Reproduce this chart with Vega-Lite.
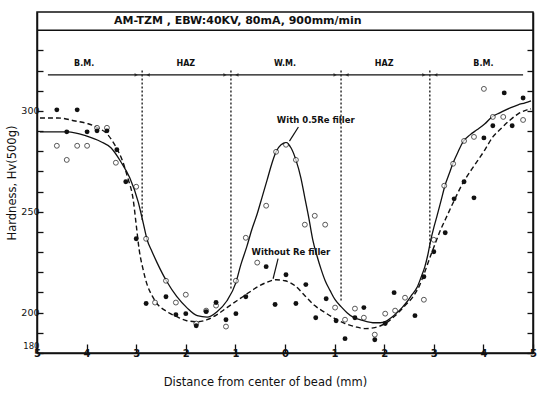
{
  "$schema": "https://vega.github.io/schema/vega-lite/v6.json",
  "width": 496,
  "height": 341,
  "autosize": {"type": "none"},
  "padding": {"left": 37, "top": 12, "right": 8, "bottom": 41},
  "background": "white",
  "config": {
    "font": "DejaVu Sans",
    "view": {"stroke": "#111", "strokeWidth": 1.5},
    "axis": {"grid": false, "domainColor": "#111", "domainWidth": 1.5, "tickColor": "#111", "tickWidth": 1.3, "labelColor": "#111", "titleColor": "#111", "labelFontSize": 10, "titleFontSize": 11.5, "titleFontWeight": "normal"}
  },
  "datasets": {
    "pts": [
      {"x": -4.60, "hv": 282.7, "s": "o"}, {"x": -4.19, "hv": 282.7, "s": "o"}, {"x": -3.99, "hv": 282.7, "s": "o"}, {"x": -4.40, "hv": 275.7, "s": "o"},
      {"x": -3.79, "hv": 291.6, "s": "o"}, {"x": -3.59, "hv": 291.6, "s": "o"}, {"x": -3.41, "hv": 274.3, "s": "o"}, {"x": -3.00, "hv": 262.4, "s": "o"},
      {"x": -2.80, "hv": 236.6, "s": "o"}, {"x": -2.40, "hv": 215.8, "s": "o"}, {"x": -2.62, "hv": 205.0, "s": "o"}, {"x": -2.20, "hv": 205.0, "s": "o"},
      {"x": -2.00, "hv": 208.9, "s": "o"}, {"x": -1.79, "hv": 194.6, "s": "o"}, {"x": -1.59, "hv": 201.0, "s": "o"}, {"x": -1.39, "hv": 203.5, "s": "o"},
      {"x": -1.19, "hv": 193.1, "s": "o"}, {"x": -0.99, "hv": 215.8, "s": "o"}, {"x": -0.79, "hv": 237.1, "s": "o"}, {"x": -0.56, "hv": 224.8, "s": "o"},
      {"x": -0.38, "hv": 253.0, "s": "o"}, {"x": -0.18, "hv": 279.7, "s": "o"}, {"x": 0.02, "hv": 283.2, "s": "o"}, {"x": 0.22, "hv": 275.7, "s": "o"},
      {"x": 0.40, "hv": 243.6, "s": "o"}, {"x": 0.60, "hv": 248.0, "s": "o"}, {"x": 0.81, "hv": 243.6, "s": "o"}, {"x": 1.01, "hv": 202.5, "s": "o"},
      {"x": 1.21, "hv": 196.5, "s": "o"}, {"x": 1.41, "hv": 202.0, "s": "o"}, {"x": 1.59, "hv": 197.5, "s": "o"}, {"x": 1.81, "hv": 189.1, "s": "o"},
      {"x": 2.02, "hv": 199.5, "s": "o"}, {"x": 2.22, "hv": 201.0, "s": "o"}, {"x": 2.42, "hv": 207.4, "s": "o"}, {"x": 2.80, "hv": 206.4, "s": "o"},
      {"x": 3.00, "hv": 236.1, "s": "o"}, {"x": 3.21, "hv": 262.9, "s": "o"}, {"x": 3.39, "hv": 273.8, "s": "o"}, {"x": 3.61, "hv": 285.1, "s": "o"},
      {"x": 3.81, "hv": 287.1, "s": "o"}, {"x": 4.01, "hv": 310.9, "s": "o"}, {"x": 4.19, "hv": 297.0, "s": "o"}, {"x": 4.40, "hv": 297.0, "s": "o"},
      {"x": 4.80, "hv": 295.5, "s": "o"},
      {"x": -4.60, "hv": 300.5, "s": "f"}, {"x": -4.19, "hv": 300.5, "s": "f"}, {"x": -4.40, "hv": 289.6, "s": "f"}, {"x": -3.99, "hv": 289.6, "s": "f"},
      {"x": -3.79, "hv": 290.1, "s": "f"}, {"x": -3.59, "hv": 290.1, "s": "f"}, {"x": -3.39, "hv": 280.7, "s": "f"}, {"x": -3.21, "hv": 264.9, "s": "f"},
      {"x": -3.00, "hv": 236.6, "s": "f"}, {"x": -2.80, "hv": 204.5, "s": "f"}, {"x": -2.40, "hv": 207.9, "s": "f"}, {"x": -2.20, "hv": 199.0, "s": "f"},
      {"x": -2.00, "hv": 199.5, "s": "f"}, {"x": -1.79, "hv": 193.5, "s": "f"}, {"x": -1.59, "hv": 200.5, "s": "f"}, {"x": -1.39, "hv": 205.0, "s": "f"},
      {"x": -1.19, "hv": 196.5, "s": "f"}, {"x": -0.99, "hv": 199.5, "s": "f"}, {"x": -0.79, "hv": 207.9, "s": "f"}, {"x": -0.38, "hv": 222.8, "s": "f"},
      {"x": -0.20, "hv": 204.0, "s": "f"}, {"x": 0.02, "hv": 218.8, "s": "f"}, {"x": 0.22, "hv": 204.5, "s": "f"}, {"x": 0.42, "hv": 213.9, "s": "f"},
      {"x": 0.62, "hv": 197.5, "s": "f"}, {"x": 0.83, "hv": 206.9, "s": "f"}, {"x": 1.03, "hv": 196.0, "s": "f"}, {"x": 1.21, "hv": 187.1, "s": "f"},
      {"x": 1.41, "hv": 197.5, "s": "f"}, {"x": 1.59, "hv": 202.5, "s": "f"}, {"x": 1.81, "hv": 186.6, "s": "f"}, {"x": 2.02, "hv": 194.6, "s": "f"},
      {"x": 2.20, "hv": 209.9, "s": "f"}, {"x": 2.62, "hv": 198.5, "s": "f"}, {"x": 2.80, "hv": 217.8, "s": "f"}, {"x": 3.00, "hv": 230.2, "s": "f"},
      {"x": 3.23, "hv": 239.6, "s": "f"}, {"x": 3.41, "hv": 256.4, "s": "f"}, {"x": 3.61, "hv": 264.9, "s": "f"}, {"x": 3.81, "hv": 256.9, "s": "f"},
      {"x": 4.01, "hv": 286.6, "s": "f"}, {"x": 4.19, "hv": 292.6, "s": "f"}, {"x": 4.42, "hv": 308.9, "s": "f"}, {"x": 4.58, "hv": 292.6, "s": "f"},
      {"x": 4.80, "hv": 306.4, "s": "f"}
    ],
    "curves": [
      {"x": -4.94, "hv": 289.6, "c": "w"}, {"x": -4.38, "hv": 289.6, "c": "w"}, {"x": -4.01, "hv": 287.6, "c": "w"}, {"x": -3.71, "hv": 284.7, "c": "w"},
      {"x": -3.51, "hv": 281.7, "c": "w"}, {"x": -3.31, "hv": 274.8, "c": "w"}, {"x": -3.13, "hv": 266.8, "c": "w"}, {"x": -2.96, "hv": 254.9, "c": "w"},
      {"x": -2.86, "hv": 244.6, "c": "w"}, {"x": -2.78, "hv": 236.1, "c": "w"}, {"x": -2.68, "hv": 230.2, "c": "w"}, {"x": -2.58, "hv": 224.8, "c": "w"},
      {"x": -2.38, "hv": 215.3, "c": "w"}, {"x": -2.18, "hv": 207.9, "c": "w"}, {"x": -1.98, "hv": 202.5, "c": "w"}, {"x": -1.77, "hv": 198.5, "c": "w"},
      {"x": -1.57, "hv": 197.8, "c": "w"}, {"x": -1.37, "hv": 200.5, "c": "w"}, {"x": -1.17, "hv": 205.9, "c": "w"}, {"x": -0.99, "hv": 214.9, "c": "w"},
      {"x": -0.89, "hv": 223.8, "c": "w"}, {"x": -0.77, "hv": 232.7, "c": "w"}, {"x": -0.67, "hv": 241.1, "c": "w"}, {"x": -0.56, "hv": 249.0, "c": "w"},
      {"x": -0.46, "hv": 257.4, "c": "w"}, {"x": -0.36, "hv": 265.8, "c": "w"}, {"x": -0.26, "hv": 274.3, "c": "w"}, {"x": -0.18, "hv": 279.7, "c": "w"},
      {"x": -0.08, "hv": 283.2, "c": "w"}, {"x": 0.02, "hv": 284.2, "c": "w"}, {"x": 0.12, "hv": 281.7, "c": "w"}, {"x": 0.22, "hv": 275.7, "c": "w"},
      {"x": 0.32, "hv": 266.8, "c": "w"}, {"x": 0.40, "hv": 256.9, "c": "w"}, {"x": 0.48, "hv": 247.0, "c": "w"}, {"x": 0.56, "hv": 236.1, "c": "w"},
      {"x": 0.65, "hv": 227.7, "c": "w"}, {"x": 0.73, "hv": 221.3, "c": "w"}, {"x": 0.81, "hv": 215.8, "c": "w"}, {"x": 0.91, "hv": 210.9, "c": "w"},
      {"x": 1.01, "hv": 206.4, "c": "w"}, {"x": 1.13, "hv": 203.0, "c": "w"}, {"x": 1.25, "hv": 200.0, "c": "w"}, {"x": 1.39, "hv": 197.5, "c": "w"},
      {"x": 1.51, "hv": 196.5, "c": "w"}, {"x": 1.65, "hv": 195.5, "c": "w"}, {"x": 1.77, "hv": 195.0, "c": "w"}, {"x": 1.92, "hv": 195.0, "c": "w"},
      {"x": 2.02, "hv": 195.5, "c": "w"}, {"x": 2.14, "hv": 197.5, "c": "w"}, {"x": 2.26, "hv": 200.0, "c": "w"}, {"x": 2.36, "hv": 202.5, "c": "w"},
      {"x": 2.46, "hv": 205.4, "c": "w"}, {"x": 2.56, "hv": 208.9, "c": "w"}, {"x": 2.66, "hv": 212.4, "c": "w"}, {"x": 2.74, "hv": 217.3, "c": "w"},
      {"x": 2.82, "hv": 222.8, "c": "w"}, {"x": 2.88, "hv": 228.7, "c": "w"}, {"x": 2.94, "hv": 236.1, "c": "w"}, {"x": 3.00, "hv": 242.1, "c": "w"},
      {"x": 3.06, "hv": 247.5, "c": "w"}, {"x": 3.15, "hv": 255.9, "c": "w"}, {"x": 3.23, "hv": 263.4, "c": "w"}, {"x": 3.31, "hv": 268.8, "c": "w"},
      {"x": 3.39, "hv": 274.3, "c": "w"}, {"x": 3.49, "hv": 279.7, "c": "w"}, {"x": 3.59, "hv": 284.7, "c": "w"}, {"x": 3.73, "hv": 288.1, "c": "w"},
      {"x": 3.87, "hv": 290.6, "c": "w"}, {"x": 4.03, "hv": 293.6, "c": "w"}, {"x": 4.17, "hv": 297.0, "c": "w"}, {"x": 4.33, "hv": 299.0, "c": "w"},
      {"x": 4.54, "hv": 301.5, "c": "w"}, {"x": 4.70, "hv": 303.0, "c": "w"}, {"x": 4.84, "hv": 304.0, "c": "w"}, {"x": 4.96, "hv": 305.0, "c": "w"},
      {"x": -4.94, "hv": 296.5, "c": "n"}, {"x": -4.58, "hv": 296.5, "c": "n"}, {"x": -4.23, "hv": 295.0, "c": "n"}, {"x": -3.97, "hv": 293.6, "c": "n"},
      {"x": -3.77, "hv": 291.6, "c": "n"}, {"x": -3.57, "hv": 288.1, "c": "n"}, {"x": -3.41, "hv": 282.2, "c": "n"}, {"x": -3.27, "hv": 274.8, "c": "n"},
      {"x": -3.17, "hv": 266.8, "c": "n"}, {"x": -3.06, "hv": 255.9, "c": "n"}, {"x": -3.00, "hv": 243.6, "c": "n"}, {"x": -2.94, "hv": 231.2, "c": "n"},
      {"x": -2.86, "hv": 221.3, "c": "n"}, {"x": -2.78, "hv": 213.9, "c": "n"}, {"x": -2.68, "hv": 208.4, "c": "n"}, {"x": -2.58, "hv": 204.5, "c": "n"},
      {"x": -2.38, "hv": 200.5, "c": "n"}, {"x": -2.18, "hv": 198.0, "c": "n"}, {"x": -1.98, "hv": 196.0, "c": "n"}, {"x": -1.77, "hv": 195.5, "c": "n"},
      {"x": -1.57, "hv": 196.5, "c": "n"}, {"x": -1.37, "hv": 199.0, "c": "n"}, {"x": -1.17, "hv": 202.5, "c": "n"}, {"x": -0.97, "hv": 205.9, "c": "n"},
      {"x": -0.79, "hv": 208.9, "c": "n"}, {"x": -0.58, "hv": 212.4, "c": "n"}, {"x": -0.38, "hv": 214.9, "c": "n"}, {"x": -0.18, "hv": 216.3, "c": "n"},
      {"x": 0.00, "hv": 215.8, "c": "n"}, {"x": 0.20, "hv": 213.4, "c": "n"}, {"x": 0.40, "hv": 208.4, "c": "n"}, {"x": 0.60, "hv": 203.5, "c": "n"},
      {"x": 0.81, "hv": 200.0, "c": "n"}, {"x": 1.01, "hv": 197.0, "c": "n"}, {"x": 1.21, "hv": 194.6, "c": "n"}, {"x": 1.41, "hv": 193.1, "c": "n"},
      {"x": 1.61, "hv": 192.1, "c": "n"}, {"x": 1.81, "hv": 192.6, "c": "n"}, {"x": 2.02, "hv": 194.6, "c": "n"}, {"x": 2.22, "hv": 198.5, "c": "n"},
      {"x": 2.42, "hv": 203.5, "c": "n"}, {"x": 2.58, "hv": 207.9, "c": "n"}, {"x": 2.72, "hv": 213.9, "c": "n"}, {"x": 2.82, "hv": 220.3, "c": "n"},
      {"x": 2.92, "hv": 227.2, "c": "n"}, {"x": 3.02, "hv": 233.7, "c": "n"}, {"x": 3.12, "hv": 240.1, "c": "n"}, {"x": 3.23, "hv": 246.0, "c": "n"},
      {"x": 3.39, "hv": 254.5, "c": "n"}, {"x": 3.59, "hv": 264.4, "c": "n"}, {"x": 3.73, "hv": 269.8, "c": "n"}, {"x": 3.87, "hv": 274.8, "c": "n"},
      {"x": 4.03, "hv": 280.7, "c": "n"}, {"x": 4.19, "hv": 287.1, "c": "n"}, {"x": 4.33, "hv": 290.6, "c": "n"}, {"x": 4.54, "hv": 295.5, "c": "n"},
      {"x": 4.70, "hv": 298.5, "c": "n"}, {"x": 4.88, "hv": 300.5, "c": "n"}, {"x": 4.96, "hv": 301.0, "c": "n"}
    ],
    "bounds": [
      {"x": -2.88, "hv": 320, "hv2": 246},
      {"x": -1.09, "hv": 320, "hv2": 211},
      {"x": 1.13, "hv": 320, "hv2": 205},
      {"x": 2.92, "hv": 320, "hv2": 232}
    ],
    "arrows": [
      {"x": -3.0, "hv": 317.8, "sh": "triangle-right"}, {"x": -2.76, "hv": 317.8, "sh": "triangle-left"},
      {"x": -1.21, "hv": 317.8, "sh": "triangle-right"}, {"x": -0.97, "hv": 317.8, "sh": "triangle-left"},
      {"x": 1.01, "hv": 317.8, "sh": "triangle-right"}, {"x": 1.25, "hv": 317.8, "sh": "triangle-left"},
      {"x": 2.80, "hv": 317.8, "sh": "triangle-right"}, {"x": 3.04, "hv": 317.8, "sh": "triangle-left"}
    ],
    "regions": [
      {"x": -4.05, "hv": 321.3, "t": "B.M."},
      {"x": -2.0, "hv": 321.3, "t": "HAZ"},
      {"x": 0.0, "hv": 321.3, "t": "W.M."},
      {"x": 2.0, "hv": 321.3, "t": "HAZ"},
      {"x": 4.0, "hv": 321.3, "t": "B.M."}
    ],
    "annot": [
      {"x": 0.62, "hv": 295.3, "t": "With 0.5Re filler"},
      {"x": 0.12, "hv": 230.0, "t": "Without  Re filler"}
    ],
    "leaders": [
      {"x": 0.27, "hv": 292.0, "x2": 0.09, "hv2": 285.0},
      {"x": -0.14, "hv": 226.8, "x2": -0.24, "hv2": 216.8}
    ]
  },
  "encoding": {
    "x": {"field": "x", "type": "quantitative", "scale": {"domain": [-5, 5], "nice": false, "zero": false},
      "axis": {"values": [-5, -4, -3, -2, -1, 0, 1, 2, 3, 4, 5], "labelExpr": "abs(datum.value)", "tickSize": -9, "labelFlush": false, "labelPadding": 4, "labelFontWeight": "bold", "title": "Distance from center of bead (mm)", "titlePadding": 18, "titleX": 228}},
    "y": {"field": "hv", "type": "quantitative", "scale": {"domain": [180, 349], "nice": false, "zero": false}, "axis": null}
  },
  "resolve": {"axis": {"y": "independent"}},
  "layer": [
    {
      "data": {"values": [{"x": -5, "x2": 5, "hv": 340}]},
      "mark": {"type": "rule", "color": "#111", "strokeWidth": 1.5},
      "encoding": {"x2": {"field": "x2"}}
    },
    {
      "data": {"values": [{"x": -0.95, "hv": 344.6, "t": "AM-TZM , EBW:40KV,  80mA, 900mm/min"}]},
      "mark": {"type": "text", "fontSize": 11, "fontWeight": "bold", "color": "#111", "align": "center", "baseline": "middle"},
      "encoding": {"text": {"field": "t"}}
    },
    {
      "data": {"values": [{"x": -4.78, "x2": 4.8, "hv": 317.8}]},
      "mark": {"type": "rule", "color": "#111", "strokeWidth": 1.2},
      "encoding": {"x2": {"field": "x2"}}
    },
    {
      "data": {"name": "bounds"},
      "mark": {"type": "rule", "color": "#222", "strokeWidth": 1.4, "strokeDash": [2, 2]},
      "encoding": {"y2": {"field": "hv2"}}
    },
    {
      "data": {"name": "arrows"},
      "mark": {"type": "point", "filled": true, "color": "#111", "size": 14},
      "encoding": {"shape": {"field": "sh", "type": "nominal", "scale": null}}
    },
    {
      "data": {"name": "regions"},
      "mark": {"type": "text", "fontSize": 8, "fontWeight": "bold", "color": "#111", "baseline": "bottom"},
      "encoding": {"text": {"field": "t"}}
    },
    {
      "data": {"name": "curves"},
      "transform": [{"filter": "datum.c == 'w'"}],
      "mark": {"type": "line", "color": "#111", "strokeWidth": 1.3, "interpolate": "monotone"}
    },
    {
      "data": {"name": "curves"},
      "transform": [{"filter": "datum.c == 'n'"}],
      "mark": {"type": "line", "color": "#111", "strokeWidth": 1.4, "strokeDash": [5, 3], "interpolate": "monotone"}
    },
    {
      "data": {"name": "pts"},
      "transform": [{"filter": "datum.s == 'o'"}],
      "mark": {"type": "point", "shape": "circle", "filled": false, "fill": "white", "stroke": "#111", "strokeWidth": 1, "size": 24},
      "encoding": {
        "y": {"field": "hv", "type": "quantitative", "scale": {"domain": [180, 349], "nice": false, "zero": false},
          "axis": {"orient": "left", "values": [180, 190, 200, 210, 220, 230, 240, 250, 260, 270, 280, 290, 300, 310, 320, 330], "labelExpr": "indexof([180, 200, 250, 300], datum.value) >= 0 ? datum.value : ''", "labelBaseline": {"condition": {"test": "datum.value == 180", "value": "bottom"}, "value": "middle"}, "labelOffset": {"condition": {"test": "datum.value == 180", "value": -3}, "value": 0}, "labelFontSize": {"condition": {"test": "datum.value == 180", "value": 8.5}, "value": 9.5}, "tickSize": -6, "labelPadding": 4, "title": "Hardness,  Hv(500g)", "titlePadding": 3}}
      }
    },
    {
      "data": {"name": "pts"},
      "transform": [{"filter": "datum.s == 'f'"}],
      "mark": {"type": "circle", "color": "#111", "opacity": 1, "size": 24},
      "encoding": {
        "y": {"field": "hv", "type": "quantitative", "scale": {"domain": [180, 349], "nice": false, "zero": false},
          "axis": {"orient": "right", "values": [180, 190, 200, 210, 220, 230, 240, 250, 260, 270, 280, 290, 300, 310, 320, 330], "labels": false, "tickSize": -6, "title": null}}
      }
    },
    {
      "data": {"name": "annot"},
      "mark": {"type": "text", "fontSize": 8.5, "fontWeight": "bold", "color": "#111"},
      "encoding": {"text": {"field": "t"}}
    },
    {
      "data": {"name": "leaders"},
      "mark": {"type": "rule", "color": "#111", "strokeWidth": 1.2},
      "encoding": {"x2": {"field": "x2"}, "y2": {"field": "hv2"}}
    }
  ]
}
